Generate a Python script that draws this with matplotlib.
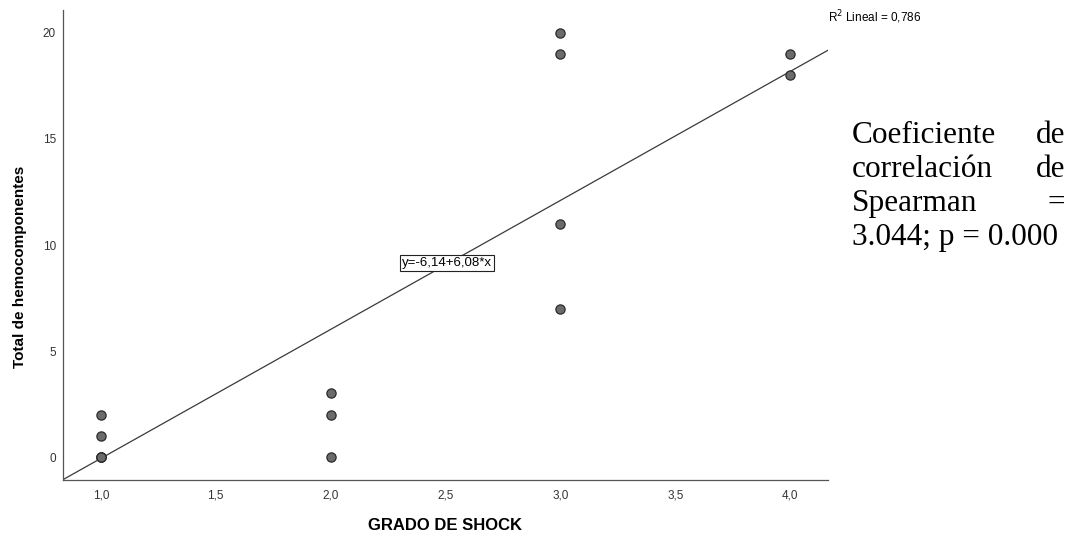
import matplotlib
matplotlib.use("Agg")
import matplotlib.pyplot as plt
import numpy as np

plt.rcParams["font.family"] = ["Liberation Sans", "DejaVu Sans"]

# --- data ------------------------------------------------------------------
grado = [1, 1, 1, 1, 1, 2, 2, 2, 3, 3, 3, 3, 4, 4]
total = [0, 0, 0, 1, 2, 0, 2, 3, 7, 11, 19, 20, 18, 19]
intercept = -6.14
slope = 6.08
r2_label = "R$^2$ Lineal = 0,786"
eq_label = "y=-6,14+6,08*x"
xticks = [1.0, 1.5, 2.0, 2.5, 3.0, 3.5, 4.0]
yticks = [0, 5, 10, 15, 20]

W, H = 1069, 536
fig = plt.figure(figsize=(W / 100, H / 100), dpi=100)
ax = fig.add_axes([63 / W, 1 - 480 / H, 765 / W, 470 / H])

xmin, xmax = 0.835, 4.165
ymin, ymax = -1.08, 21.08
ax.set_xlim(xmin, xmax)
ax.set_ylim(ymin, ymax)

ax.scatter(grado, total, s=44, facecolor="#6b6b6b", edgecolor="#2b2b2b",
           linewidth=0.9, zorder=3)

xl = np.array([xmin, xmax])
ax.plot(xl, intercept + slope * xl, color="#3a3a3a", lw=0.9, zorder=2)

for s in ["top", "right"]:
    ax.spines[s].set_visible(False)
for s in ["left", "bottom"]:
    ax.spines[s].set_color("#555555")
    ax.spines[s].set_linewidth(0.9)

ax.set_xticks(xticks)
ax.set_xticklabels([f"{v:.1f}".replace(".", ",") for v in xticks])
ax.set_yticks(yticks)
ax.tick_params(length=0, labelsize=8.5, colors="#333333")
ax.tick_params(axis="x", pad=7)
ax.tick_params(axis="y", pad=5)

ax.set_xlabel("GRADO DE SHOCK", fontsize=12, fontweight="bold", va="center")
ax.xaxis.set_label_coords((445 - 63) / 765, (480 - 525) / 470)
ax.set_ylabel("Total de hemocomponentes", fontsize=11, fontweight="bold",
              va="center")
ax.yaxis.set_label_coords((20 - 63) / 765, (480 - 267) / 470)

# regression annotations
fig.text(875 / W, 1 - 17 / H, r2_label, fontsize=8.5, ha="center",
         va="center")
ax.text(2.505, 9.15, eq_label, fontsize=9.5, ha="center", va="center",
        bbox=dict(facecolor="white", edgecolor="#222222", linewidth=0.8,
                  pad=1.5), zorder=4)

# justified side note
serif = "Liberation Serif"
rows = [("Coeficiente", "de", 143), ("correlación", "de", 177),
        ("Spearman", "=", 211)]
xl_px, xr_px = 852, 1065
for left, right, ypx in rows:
    fig.text(xl_px / W, 1 - ypx / H, left, family=serif, fontsize=22.5,
             ha="left", va="baseline")
    fig.text(xr_px / W, 1 - ypx / H, right, family=serif, fontsize=22.5,
             ha="right", va="baseline")
fig.text(xl_px / W, 1 - 245 / H, "3.044; p = 0.000", family=serif,
         fontsize=22.5, ha="left", va="baseline")

fig.savefig("out.png", dpi=100, facecolor="white")
